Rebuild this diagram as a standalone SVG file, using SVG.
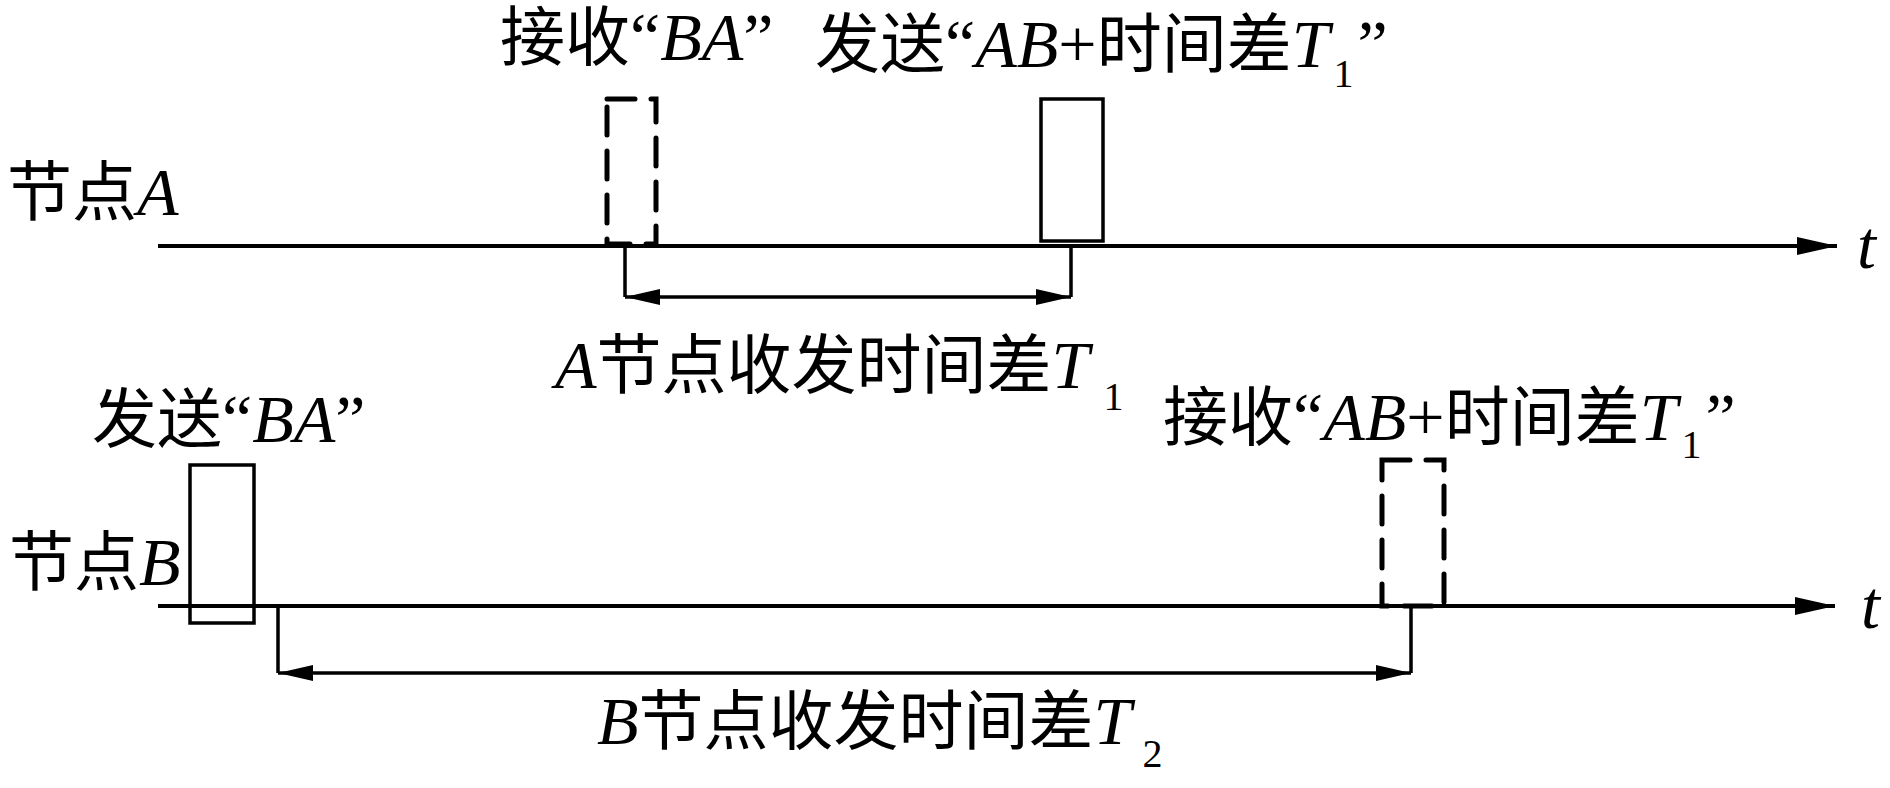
<svg xmlns="http://www.w3.org/2000/svg" width="1890" height="788" viewBox="0 0 1890 788">
<defs>
<style>
.lbl{font-family:"Noto Sans CJK SC","Liberation Serif",serif;font-size:65px;fill:#000}
.it{font-family:"Liberation Serif",serif;font-style:italic;font-size:68px}
.rm{font-family:"Liberation Serif",serif;font-style:normal;font-size:68px}
.sub{font-family:"Liberation Serif",serif;font-style:normal;font-size:40px}
.axis{stroke:#000;stroke-width:4;fill:none}
.box{stroke:#000;stroke-width:3.5;fill:none}
.dash{stroke:#000;stroke-width:5;fill:none;stroke-dasharray:28 16;stroke-linecap:round}
.dim{stroke:#000;stroke-width:3.5;fill:none}
</style>
<marker id="axisArrow" markerUnits="userSpaceOnUse" markerWidth="42" markerHeight="20" refX="40" refY="10" orient="auto">
<path d="M0,1 L40,10 L0,19 Z" fill="#000"/>
</marker>
<marker id="dimArrow" markerUnits="userSpaceOnUse" markerWidth="36" markerHeight="18" refX="35" refY="9" orient="auto-start-reverse">
<path d="M0,1 L35,9 L0,17 Z" fill="#000"/>
</marker>
</defs>
<rect width="1890" height="788" fill="#fff"/>

<g id="timeline-A">
<line class="axis" x1="158" y1="246" x2="1837" y2="246" marker-end="url(#axisArrow)"/>
<text class="lbl" x="7" y="215">节点<tspan class="it">A</tspan></text>
<text class="lbl it" x="1857" y="268">t</text>
</g>

<g id="timeline-B">
<line class="axis" x1="158" y1="606" x2="1835" y2="606" marker-end="url(#axisArrow)"/>
<text class="lbl" x="9" y="585">节点<tspan class="it">B</tspan></text>
<text class="lbl it" x="1861" y="628">t</text>
</g>

<g id="recv-BA-A">
<rect class="dash" x="607" y="99" width="49" height="145"/>
<text class="lbl" x="500" y="60">接收<tspan class="rm">“</tspan><tspan class="it">BA</tspan><tspan class="rm">”</tspan></text>
</g>

<g id="send-AB-A">
<rect class="box" x="1041" y="99" width="62" height="142" style="fill:#fff"/>
<text class="lbl" x="815" y="67">发送<tspan class="rm">“</tspan><tspan class="it">AB</tspan><tspan class="rm">+</tspan>时间差<tspan class="it">T</tspan><tspan class="sub" dx="4" dy="20">1</tspan><tspan class="rm" dx="4" dy="-20">”</tspan></text>
</g>

<g id="send-BA-B">
<rect class="box" x="190" y="465" width="64" height="158"/>
<text class="lbl" x="92" y="442">发送<tspan class="rm">“</tspan><tspan class="it">BA</tspan><tspan class="rm">”</tspan></text>
</g>

<g id="recv-AB-B">
<rect class="dash" x="1382" y="460" width="62" height="146"/>
<text class="lbl" x="1163" y="440">接收<tspan class="rm">“</tspan><tspan class="it">AB</tspan><tspan class="rm">+</tspan>时间差<tspan class="it">T</tspan><tspan class="sub" dx="4" dy="18">1</tspan><tspan class="rm" dx="4" dy="-18">”</tspan></text>
</g>

<g id="connectors">
<path class="dim" d="M625,246 V297 M1071,246 V297"/>
<line class="dim" x1="625" y1="297" x2="1071" y2="297" marker-start="url(#dimArrow)" marker-end="url(#dimArrow)"/>
<path class="dim" d="M278,606 V673 M1411,608 V673"/>
<line class="dim" x1="278" y1="673" x2="1411" y2="673" marker-start="url(#dimArrow)" marker-end="url(#dimArrow)"/>
</g>

<g id="label-T1">
<text class="lbl" x="555" y="388"><tspan class="it">A</tspan>节点收发时间差<tspan class="it">T</tspan><tspan class="sub" dx="14" dy="22">1</tspan></text>
</g>
<g id="label-T2">
<text class="lbl" x="597" y="744"><tspan class="it">B</tspan>节点收发时间差<tspan class="it">T</tspan><tspan class="sub" dx="11" dy="23">2</tspan></text>
</g>
</svg>
